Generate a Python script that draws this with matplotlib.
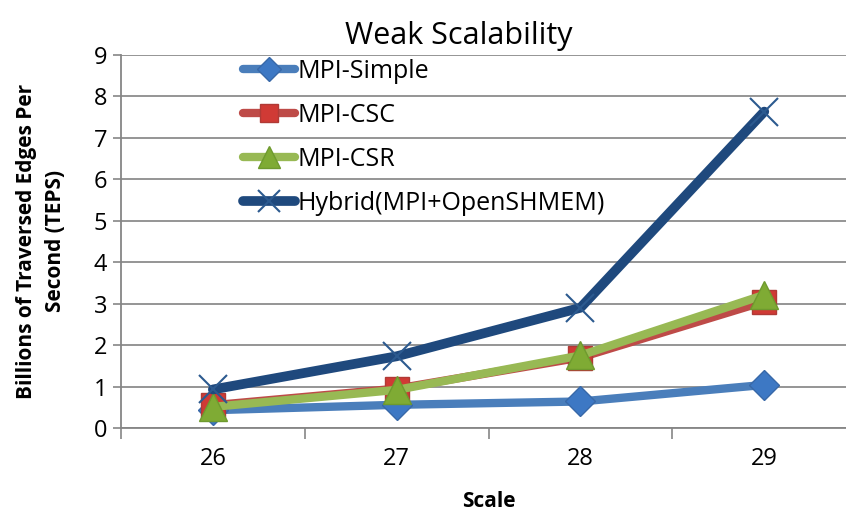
import matplotlib.pyplot as plt

scales = ['26', '27', '28', '29']
mpi_simple = [0.43, 0.56, 0.64, 1.04]
mpi_csc = [0.55, 0.95, 1.70, 3.05]
mpi_csr = [0.51, 0.92, 1.75, 3.21]
hybrid = [0.93, 1.73, 2.90, 7.63]

plt.rcParams['font.family'] = ['Open Sans', 'DejaVu Sans']

fig = plt.figure(figsize=(8.46, 5.12), dpi=100)
ax = fig.add_axes([0.143, 0.164, 0.869, 0.729])

x = range(len(scales))
ax.plot(x, mpi_simple, color='#4a7ebb', lw=6, marker='D', ms=15,
        mfc='#3d78c4', mec='#3868a8', label='MPI-Simple', solid_capstyle='round')
ax.plot(x, mpi_csc, color='#be4b48', lw=6, marker='s', ms=17,
        mfc='#d03a35', mec='#b03a36', label='MPI-CSC', solid_capstyle='round')
ax.plot(x, mpi_csr, color='#98b954', lw=6, marker='^', ms=20,
        mfc='#7fab34', mec='#6e9a2e', label='MPI-CSR', solid_capstyle='round')
ax.plot(x, hybrid, color='#1f497d', lw=7, marker='x', ms=20, mew=1.5,
        mec='#2c5a8f', label='Hybrid(MPI+OpenSHMEM)', solid_capstyle='round')

ax.set_xlim(-0.5, 3.5)
ax.set_ylim(0, 9)
ax.set_yticks(range(10))
ax.set_xticks(list(x))
ax.set_xticklabels(scales)
ax.set_xticks([i + 0.5 for i in range(-1, 4)], minor=True)
ax.tick_params(axis='x', which='major', length=0, pad=14, labelsize=17)
ax.tick_params(axis='x', which='minor', length=8, width=1.2, color='#868686')
ax.tick_params(axis='y', length=6, width=1.2, color='#868686', labelsize=17, pad=4)

ax.grid(axis='y', color='#8c8c8c', lw=1.3)
ax.set_axisbelow(True)
for s in ['top', 'right']:
    ax.spines[s].set_visible(False)
for s in ['left', 'bottom']:
    ax.spines[s].set_color('#868686')
    ax.spines[s].set_linewidth(1.3)

ax.set_title('Weak Scalability', fontsize=22, pad=8, x=0.46)
ax.set_xlabel('Scale', fontsize=15, fontweight='bold', labelpad=14)
ax.set_ylabel('Billions of Traversed Edges Per\nSecond (TEPS)', fontsize=15,
              fontweight='bold', labelpad=20, linespacing=1.5)

ax.legend(loc='upper left', bbox_to_anchor=(0.275, 0.905),
          bbox_transform=fig.transFigure, frameon=False, fontsize=18,
          handlelength=2.1, handletextpad=0.1, labelspacing=0.76,
          borderaxespad=0, markerscale=0.8)

fig.savefig('out.png', dpi=100)
